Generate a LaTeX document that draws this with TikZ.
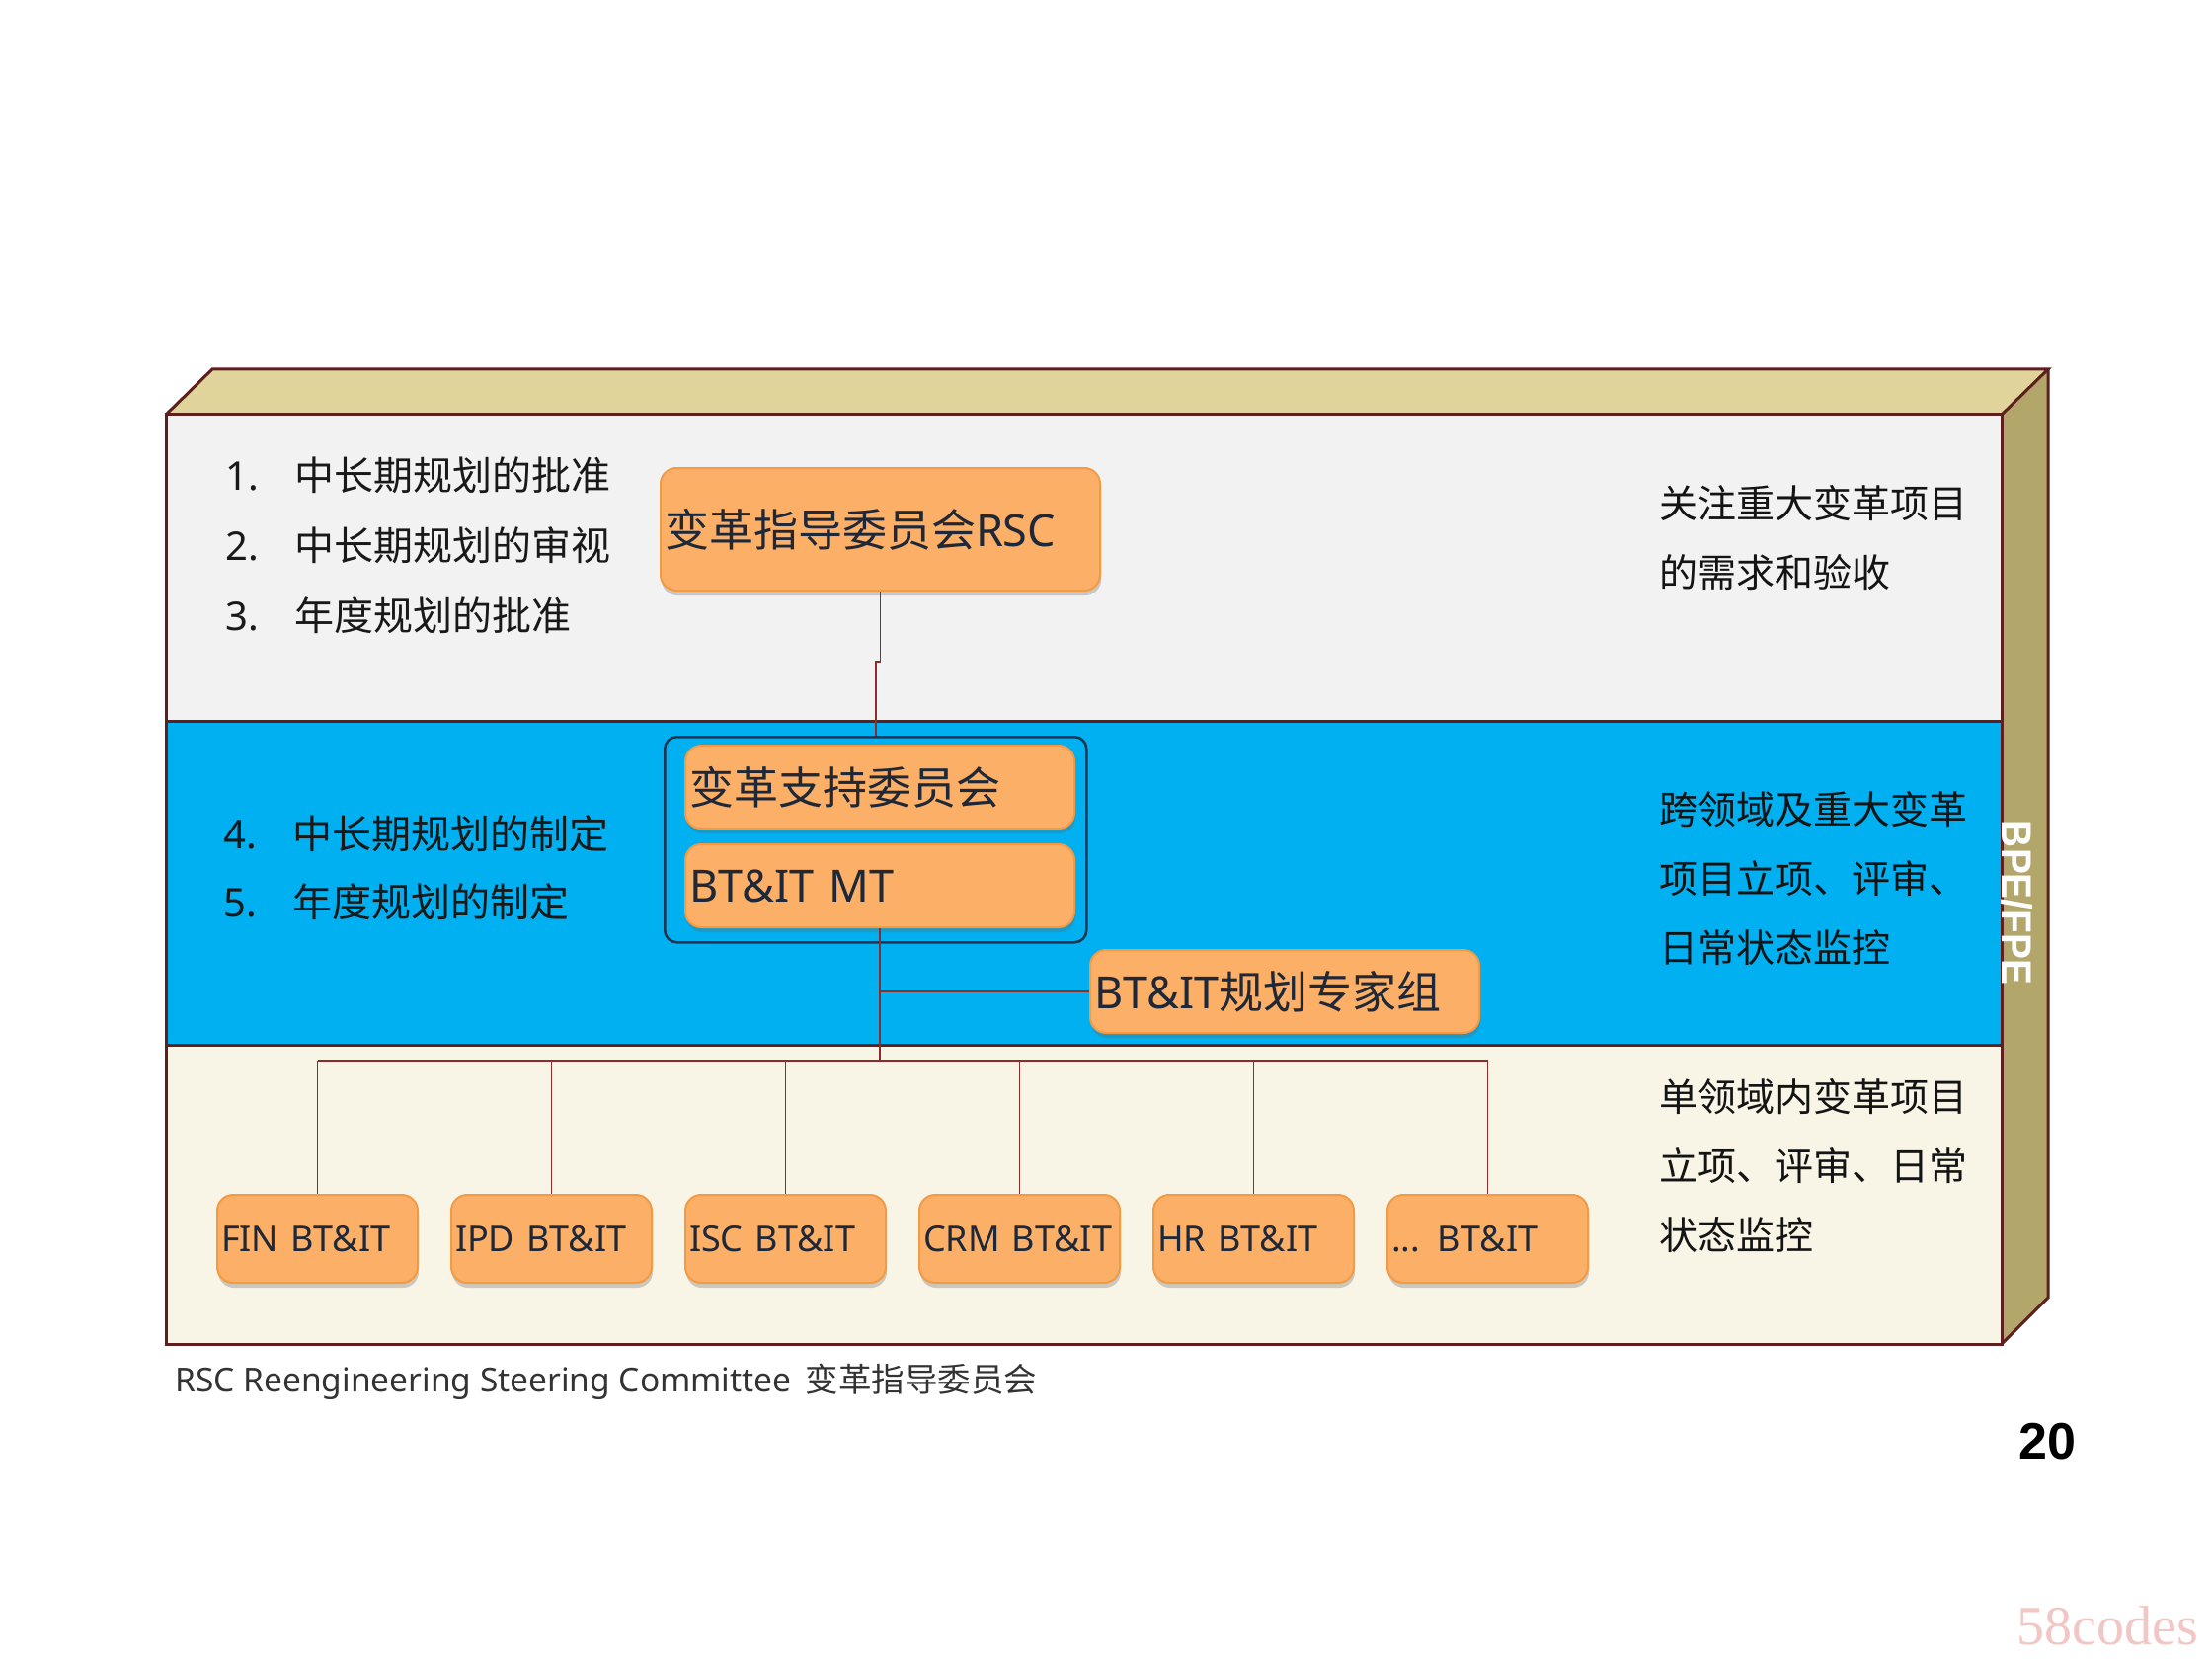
\documentclass[tikz,border=0pt]{standalone}
\usepackage{graphicx}
\usepackage{fontspec}
\setmainfont{Noto Sans CJK SC}
\newfontfamily\lat{Noto Sans}
\newfontfamily\arialf{Liberation Sans}
\newfontfamily\timesf{Liberation Serif}
\usetikzlibrary{shadows}

\definecolor{topc}{HTML}{E0D49A}
\definecolor{sidec}{HTML}{B3A66B}
\definecolor{bandA}{HTML}{F2F2F2}
\definecolor{bandB}{HTML}{00B0F0}
\definecolor{bandC}{HTML}{F8F4E6}
\definecolor{edgec}{HTML}{5E1F1F}
\definecolor{linkc}{HTML}{8E2B2B}
\definecolor{orfill}{HTML}{FBAF67}
\definecolor{ordraw}{HTML}{F39A45}
\definecolor{navy}{HTML}{1F3552}
\definecolor{boxtext}{HTML}{1E2838}
\definecolor{wmark}{HTML}{F3C6C6}

\begin{document}
\begin{tikzpicture}[x=0.5pt,y=-0.5pt,
  edge/.style={draw=edgec, line width=1.5pt, line join=miter},
  link/.style={draw=linkc, line width=0.75pt},
  obox/.style={draw=ordraw, line width=1pt, fill=orfill, rounded corners=8pt,
    anchor=north west, inner xsep=2pt, inner ysep=0pt, align=left, text=boxtext,
    drop shadow={shadow xshift=0.5pt, shadow yshift=-2.5pt, opacity=0.3, fill=black!60}},
  bigbox/.style={obox, font=\fontsize{22.5}{27}\selectfont},
  smallbox/.style={obox, font=\fontsize{18}{22}\selectfont, text width=97.5pt, minimum height=44.5pt},
  grpbox/.style={draw=navy, line width=1.25pt, rounded corners=6pt, anchor=north west,
    inner sep=0pt, minimum width=213.5pt, minimum height=104pt},
  lst/.style={anchor=west, inner sep=0pt, font=\fontsize{20}{24}\selectfont, text=black!90},
  rtxt/.style={anchor=west, inner sep=0pt, align=left, font=\fontsize{19.5}{35}\selectfont, text=black!92},
]
\useasboundingbox (0,0) rectangle (2240,1680);
\fill[white] (0,0) rectangle (2240,1680);

% 3D panel
\fill[topc] (168,420) -- (215,374) -- (2074,374) -- (2027,420) -- cycle;
\fill[sidec] (2027,420) -- (2074,374) -- (2074,1314) -- (2027,1361) -- cycle;
\fill[bandA] (168,420) rectangle (2027,730);
\fill[bandB] (168,730) rectangle (2027,1058);
\fill[bandC] (168,1058) rectangle (2027,1361);
\draw[edge] (168,420) -- (215,374) -- (2074,374) -- (2027,420);
\draw[edge] (2074,374) -- (2074,1314) -- (2027,1361);
\draw[edge] (168,420) rectangle (2027,1361);
\draw[edge] (168,730) -- (2027,730);
\draw[edge] (168,1058) -- (2027,1058);

% left list
\node[lst] (l1) at (228,481) {\makebox[35pt][l]{\lat 1.}中长期规划的批准};
\node[lst] (l2) at (228,552) {\makebox[35pt][l]{\lat 2.}中长期规划的审视};
\node[lst] (l3) at (228,623) {\makebox[35pt][l]{\lat 3.}年度规划的批准};
\node[lst] (l4) at (226,844) {\makebox[35pt][l]{\lat 4.}中长期规划的制定};
\node[lst] (l5) at (226,913) {\makebox[35pt][l]{\lat 5.}年度规划的制定};

% right texts
\node[rtxt] (r1) at (1680,545) {关注重大变革项目\\的需求和验收};
\node[rtxt] (r2) at (1680,889) {跨领域及重大变革\\项目立项、评审、\\日常状态监控};
\node[rtxt] (r3) at (1680,1180) {单领域内变革项目\\立项、评审、日常\\状态监控};

% boxes
\node[bigbox, text width=218.5pt, minimum height=62pt] (rsc) at (668,473) {变革指导委员会{\lat RSC}};
\node[grpbox] (grp) at (672,745) {};
\node[bigbox, text width=193pt, minimum height=42pt] (sup) at (693,754) {变革支持委员会};
\node[bigbox, text width=193pt, minimum height=42pt] (mt) at (693,854) {{\lat BT\&IT MT}};
\node[bigbox, text width=193pt, minimum height=42pt] (exp) at (1103,961) {{\lat BT\&IT}规划专家组};

\node[smallbox] (b1) at (219,1209) {\mbox{\lat FIN BT\&IT}};
\node[smallbox] (b2) at (456,1209) {\mbox{\lat IPD BT\&IT}};
\node[smallbox] (b3) at (693,1209) {\mbox{\lat ISC BT\&IT}};
\node[smallbox] (b4) at (930,1209) {\mbox{\lat CRM BT\&IT}};
\node[smallbox] (b5) at (1167,1209) {\mbox{\lat HR BT\&IT}};
\node[smallbox] (b6) at (1404,1209) {\mbox{\lat ... BT\&IT}};

% connectors
\coordinate (stepy) at (0,670);
\coordinate (bus) at (0,1074);
\draw[link] (rsc.south) -- (rsc.south |- stepy) -| (grp.north);
\draw[link] (mt.south) -- (mt.south |- bus);
\draw[link] (mt.south |- exp.west) -- (exp.west);
\draw[link] (b1.north |- bus) -- (b6.north |- bus);
\foreach \b in {b1,b2,b3,b4,b5,b6} {\draw[link] (\b.north |- bus) -- (\b.north);}

% side label
\node[rotate=-90, anchor=base, inner sep=0pt, text=white] (bpe) at (2027,914)
  {\resizebox{83pt}{15.5pt}{\arialf\bfseries BPE/FPE}};

% caption, page number, watermark
\node[anchor=base west, inner sep=0pt, font=\fontsize{16.75}{20}\selectfont, text=black!80] (cap) at (177,1409)
  {{\lat RSC Reengineering Steering Committee}\hspace{7pt}变革指导委员会};
\node[inner sep=0pt, font=\arialf\bfseries\fontsize{26}{30}\selectfont] (pg) at (2073,1460) {20};
\node[anchor=base west, inner sep=0pt, font=\timesf\fontsize{28}{30}\selectfont, text=wmark] (wm) at (2042,1665) {58codes};
\end{tikzpicture}
\end{document}
